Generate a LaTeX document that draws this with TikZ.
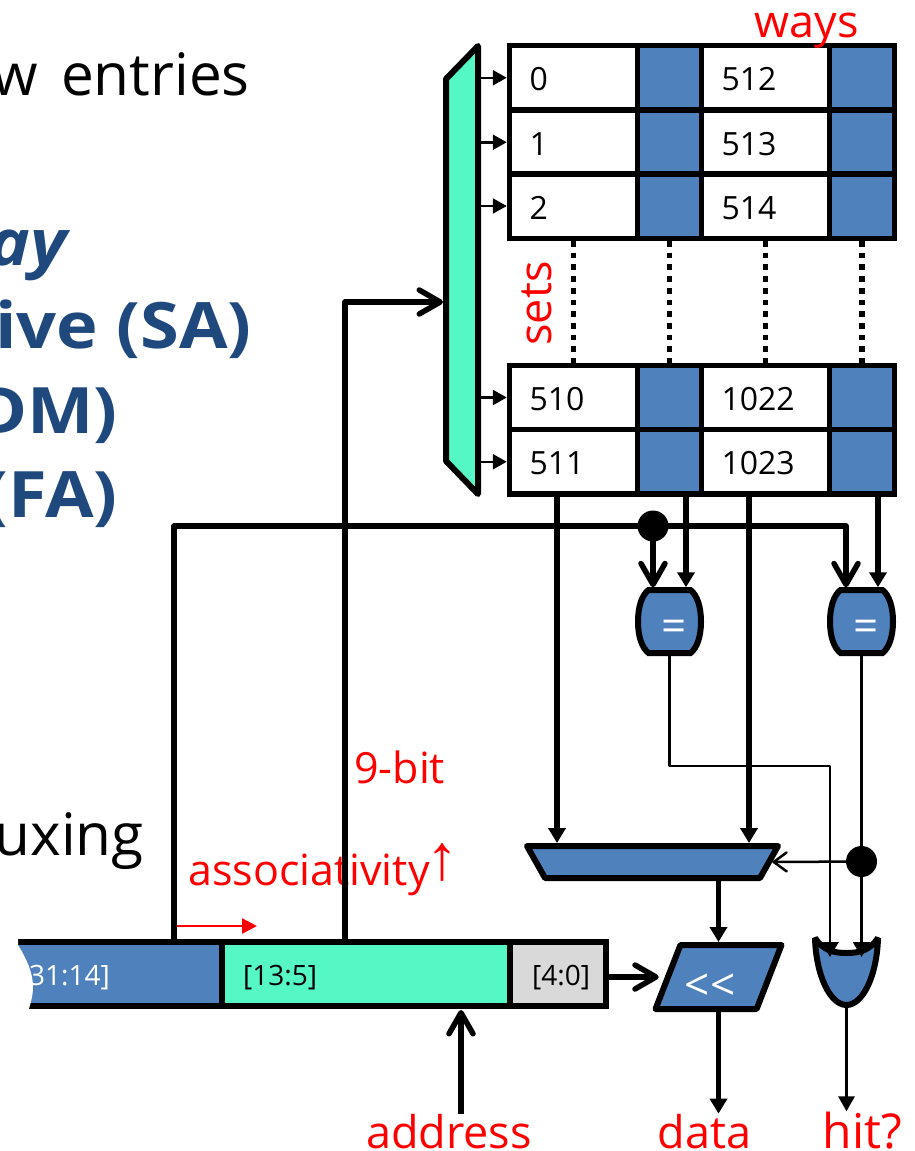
\documentclass[tikz,border=0pt]{standalone}
\usepackage{fontspec}
\setmainfont{Open Sans}
\newfontfamily\arrowfont{Liberation Sans}
\usetikzlibrary{arrows.meta,shapes.geometric}
\definecolor{setblue}{HTML}{4F81BD}
\definecolor{idxgreen}{HTML}{55F7C4}
\definecolor{headblue}{HTML}{1F497D}
\definecolor{offgrey}{HTML}{D9D9D9}
\tikzset{
  cellbox/.style={draw, line width=5.5pt, fill=white, minimum width=128pt, minimum height=64.5pt, text width=88pt, text height=26pt, text depth=0pt, inner xsep=20pt, inner ysep=0pt, align=left, font=\fontsize{32}{36}\selectfont},
  tagbox/.style={draw, line width=5.5pt, fill=setblue, minimum width=64pt, minimum height=64.5pt, inner sep=0pt},
  barbox/.style={draw, line width=6pt, minimum height=64pt, inner sep=0pt},
  bartxt/.style={inner sep=0pt, font=\fontsize{28}{32}\selectfont},
  muxbox/.style={draw, line width=6pt, line join=round, trapezium, trapezium stretches=true, inner sep=1pt},
  redtxt/.style={inner sep=0pt, text=red, font=\fontsize{43}{50}\selectfont},
  bigred/.style={redtxt, font=\fontsize{45}{52}\selectfont},
  blacktxt/.style={inner sep=0pt, anchor=base east, font=\fontsize{58.5}{66}\selectfont},
  headtxt/.style={inner sep=0pt, anchor=base east, text=headblue, font=\fontsize{64}{72}\selectfont\bfseries\addfontfeatures{FakeStretch=1.1}},
  solder/.style={circle, fill=black, minimum size=31pt, inner sep=0pt},
  thickwire/.style={line width=5.5pt, -{Triangle[length=15pt,width=17pt]}},
  openwire/.style={line width=5.5pt, line join=round, -{Straight Barb[length=21pt,width=24pt,round,line width=5.5pt]}},
  thinwire/.style={line width=2.5pt, -{Triangle[length=14pt,width=15pt]}},
  dotwire/.style={line width=5.5pt, dash pattern=on 5.7pt off 6pt},
}
\begin{document}
\begin{tikzpicture}[x=1pt, y=-1pt]
  \useasboundingbox (0,0) rectangle (914,1151);
  % slide text behind
  \node[blacktxt] (linea) at (250,95) {w\hspace{23pt}entries};
  \node[headtxt] (lineb) at (67,265) {\itshape ay};
  \node[headtxt] (linec) at (252,348) {ive (SA)};
  \node[headtxt] (lined) at (118,433) {DM)};
  \node[headtxt] (linee) at (118,517) {(FA)};
  \node[blacktxt] (linef) at (144,855) {uxing};
  % cache array
  \foreach \rowname/\y/\lefttxt/\righttxt in {r0/77.75/0/512, r1/142.25/1/513, r2/206/2/514, r510/397.5/510/1022, r511/461.75/511/1023} {
    \node[cellbox] (\rowname a) at (573.5,\y) {\lefttxt};
    \node[tagbox] (\rowname b) at (669.5,\y) {};
    \node[cellbox] (\rowname c) at (765.5,\y) {\righttxt};
    \node[tagbox, minimum width=65pt] (\rowname d) at (862,\y) {};
  }
  % decoder
  \node[muxbox, fill=idxgreen, shape border rotate=90, trapezium angle=85.06, minimum width=448pt, minimum height=32pt] (decoder) at (462,270) {};
  \foreach \rowname in {r0,r1,r2,r510,r511}
    \draw[thinwire] (decoder.east |- \rowname a.west) -- (\rowname a.west);
  % sets
  \foreach \col in {a,b,c,d}
    \draw[dotwire] (r2\col.south) -- (r510\col.north);
  % comparators
  \foreach \gname/\gx in {cmpa/669.5,cmpb/861.5} {
    \begin{scope}[shift={(\gx,621.5)}]
    \draw[line width=6pt, fill=setblue] (-21,-31.5) -- (21,-31.5) .. controls (28,-26) and (31.5,-14) .. (31.5,0) .. controls (31.5,14) and (28,26) .. (21,31.5) -- (-21,31.5) .. controls (-28,26) and (-31.5,14) .. (-31.5,0) .. controls (-31.5,-14) and (-28,-26) .. (-21,-31.5) -- cycle;
    \end{scope}
    \node[minimum size=63pt, inner sep=0pt, outer sep=2.75pt] (\gname) at (\gx,621.5) {};
    \node[inner sep=0pt, text=white, font=\fontsize{44}{50}\selectfont] (\gname txt) at ([xshift=5pt,yshift=-9pt]\gname.center) {=};
  }
  % data mux
  \node[muxbox, fill=setblue, shape border rotate=180, trapezium angle=85.2, minimum width=251pt, minimum height=32pt] (muxdata) at (652.5,862) {};
  % shifter
  \node[muxbox, fill=setblue, trapezium left angle=71.9, trapezium right angle=108.1, minimum width=126pt, minimum height=64pt] (shifter) at (718.5,977) {};
  % or gate
  \draw[line width=6pt, line join=bevel, fill=setblue] (815,938) .. controls (816,975) and (830,1005) .. (846.5,1005) .. controls (863,1005) and (877,975) .. (878,938) .. controls (870,950) and (860,953) .. (846.5,953) .. controls (833,953) and (823,950) .. (815,938) -- cycle;
  \node[minimum width=63pt, minimum height=67pt, inner sep=0pt, outer sep=2.75pt] (orgate) at (846.5,971.5) {};
  \coordinate (orina) at (830,957);
  \coordinate (orinb) at (861.5,957);
  % address
  \node[barbox, fill=setblue, minimum width=214pt] (tagfield) at (115,974) {};
  \node[barbox, fill=idxgreen, minimum width=288pt] (idxfield) at (366,974) {};
  \node[barbox, fill=offgrey, minimum width=96pt] (offfield) at (558,974) {};
  \node[bartxt, text=white, anchor=base east] (tagtxt) at (110,985) {[31:14]};
  \node[bartxt, anchor=base west] (idxtxt) at (243,985) {[13:5]};
  \node[bartxt, anchor=base west] (offtxt) at (532,985) {[4:0]};
  \fill[white] (0,935) -- (18,935) -- (18,945) .. controls (26,958) and (33,972) .. (33,987) .. controls (33,995) and (31,1002) .. (28,1012) -- (0,1012) -- cycle;
  % labels
  \node[bigred, anchor=base] (waystxt) at (806.5,37) {ways};
  \node[bigred, anchor=base, rotate=90] (setstxt) at (551,303.5) {sets};
  \node[redtxt, anchor=base west] (bittxt) at (354,783) {9-bit};
  \node[redtxt, anchor=base west] (assoctxt) at (188,885) {associativity{\hspace{-3pt}\arrowfont\fontsize{64}{64}\selectfont\raisebox{6pt}{↑}}};
  \node[bigred, anchor=base] (addrtxt) at (449,1148) {address};
  \node[bigred, anchor=base] (datatxt) at (704.5,1148) {data};
  \node[bigred, font=\fontsize{48}{52}\selectfont, anchor=base] (hittxt) at (862.5,1148) {hit?};
  % wires to the muxes
  \foreach \cell/\shiftx/\target in {r511a/-16.5/muxdata, r511b/16.5/cmpa, r511c/-16.5/muxdata, r511d/16/cmpb}
    \draw[thickwire] ([xshift=\shiftx pt]\cell.south) -- ([xshift=\shiftx pt]\cell.south |- \target.north);
  % tag wire
  \node[solder] (tagdot) at (653,526) {};
  \coordinate (tagturn) at (174,526);
  \coordinate (cmpturn) at (846,526);
  \draw[openwire] (tagfield.north -| tagturn) -- (tagturn) -- (cmpturn) -- (cmpturn |- cmpb.north);
  \draw[openwire] (tagdot.center) -- (tagdot |- cmpa.north);
  % index wire
  \coordinate (idxturn) at (345,302);
  \draw[openwire] (tagfield.north -| idxturn) -- (idxturn) -- (decoder.west |- idxturn);
  % hit logic
  \node[solder] (hitdot) at (861.5,861.5) {};
  \coordinate (cmpaturn) at (669.5,766);
  \draw[line width=2.5pt, line join=round, -{Triangle[length=15pt,width=17pt]}] (cmpa.south) -- (cmpaturn) -- (cmpaturn -| orina) -- (orina);
  \draw[line width=2.5pt, -{Triangle[length=15pt,width=17pt]}] (cmpb.south) -- (orinb);
  \draw[line width=2.5pt, -{Straight Barb[length=13pt,width=19pt,round,line width=2.5pt]}] (hitdot.center) -- (muxdata.east);
  \draw[line width=3pt, -{Triangle[length=15pt,width=16pt]}] (orgate.south) -- (orgate.south |- hittxt.north);
  % shifter wires
  \draw[thickwire] (shifter.north |- muxdata.south) -- (shifter.north);
  \draw[thickwire] (shifter.south) -- (shifter.south |- datatxt.north);
  \draw[openwire, shorten >=6pt] (offfield.east |- shifter.west) -- (shifter.west);
  \coordinate (addrtip) at (461,1010);
  \draw[openwire] (addrtip |- addrtxt.north) -- (addrtip);
  % associativity arrow
  \coordinate (assocfrom) at (177,926);
  \coordinate (assocto) at (257,926);
  \draw[line width=2.5pt, red, -{Triangle[length=15pt,width=15pt]}] (assocfrom) -- (assocto);
  % shift sign
  \node[inner sep=0pt, text=white, font=\fontsize{44}{50}\selectfont] (shifttxt) at (710,987) {<{}<};
\end{tikzpicture}
\end{document}
